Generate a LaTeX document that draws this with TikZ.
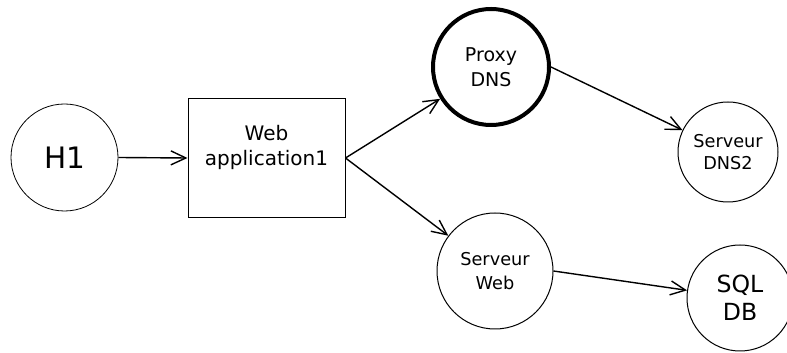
\documentclass[tikz,border=0pt]{standalone}
\usepackage{fontspec}
\setmainfont{DejaVu Sans}
\usetikzlibrary{arrows.meta}

\begin{document}
\begin{tikzpicture}[
    x=1pt, y=1pt,
    host/.style={circle, draw, line width=0.8pt, minimum size=107pt, inner sep=0pt, align=center},
    server/.style={circle, draw, line width=1pt, inner sep=0pt, align=center},
    appbox/.style={rectangle, draw, line width=1pt, minimum width=157pt, minimum height=119pt, align=center},
    link/.style={line width=1.4pt, -{Straight Barb[length=15pt, width=14pt]}}
  ]
    \useasboundingbox (0,0) rectangle (787,353);
    \node[host, font=\fontsize{29.5}{32}\selectfont] (h1) at (64.5,195.5) {H1};
    \node[appbox, font=\fontsize{20}{25}\selectfont] (webapp) at (266.5,195) {Web\\application1\\\mbox{}};
    \node[server, line width=4pt, minimum size=116pt, font=\fontsize{19}{25}\selectfont] (proxydns) at (491,286) {Proxy\\DNS};
    \node[server, minimum size=100pt, font=\fontsize{17.7}{22}\selectfont] (dnstwo) at (728,201) {Serveur\\DNS2};
    \node[server, minimum size=116pt, font=\fontsize{17.7}{24}\selectfont] (webserver) at (495,82) {Serveur\\Web};
    \node[server, minimum size=106pt, font=\fontsize{23.6}{28}\selectfont] (sqldb) at (740,55) {SQL\\DB};

    \draw[link] (h1.east) -- (webapp.west);
    \draw[link] (webapp.east) -- (proxydns);
    \draw[link] (webapp.east) -- (webserver);
    \draw[link] (proxydns.east) -- (dnstwo);
    \draw[link] (webserver.east) -- (sqldb);
\end{tikzpicture}
\end{document}
